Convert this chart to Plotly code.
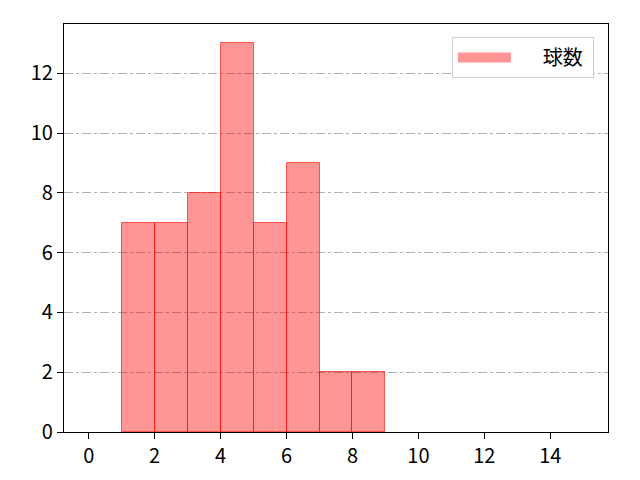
import plotly.graph_objects as go

# pitch count histogram, bins of width 1
bin_left = [1, 2, 3, 4, 5, 6, 7, 8]
counts = [7, 7, 8, 13, 7, 9, 2, 2]
x_ticks = [0, 2, 4, 6, 8, 10, 12, 14]
y_ticks = [0, 2, 4, 6, 8, 10, 12]

fill = 'rgba(255,0,0,0.41)'
edge = 'rgba(255,0,0,0.6)'

fig = go.Figure()
fig.add_trace(go.Bar(
    x=[b + 0.5 for b in bin_left],
    y=counts,
    width=1,
    name='球数',
    marker=dict(color=fill, line=dict(color=edge, width=1)),
    showlegend=False,
))
# wide patch for the legend entry
fig.add_trace(go.Scatter(
    x=[None], y=[None], mode='lines',
    name='\u00a0\u00a0\u00a0\u00a0\u00a0\u00a0球数\u00a0',
    line=dict(color='rgba(255,130,130,0.85)', width=18),
))

axis_font = dict(family='Noto Sans CJK JP', size=20, color='black')
axis_common = dict(showline=True, linecolor='black', linewidth=1.3, mirror=True,
                   ticks='outside', ticklen=6, tickwidth=1.3, tickcolor='black',
                   zeroline=False)
fig.update_layout(
    width=640, height=480,
    margin=dict(l=56, r=40, t=16, b=56),
    paper_bgcolor='white', plot_bgcolor='white',
    font=axis_font,
    bargap=0,
    xaxis=dict(range=[-0.75, 15.75], tickvals=x_ticks, showgrid=False, **axis_common),
    yaxis=dict(range=[0, 13.65], tickvals=y_ticks, showgrid=True,
               gridcolor='#b0b0b0', griddash='dashdot', gridwidth=1, **axis_common),
    legend=dict(x=0.974, y=0.968, xanchor='right', yanchor='top',
                bordercolor='#d0d0d0', borderwidth=1, bgcolor='white',
                itemwidth=53,
                font=dict(family='Noto Sans CJK JP', size=20)),
)

fig.write_html("out.html")
